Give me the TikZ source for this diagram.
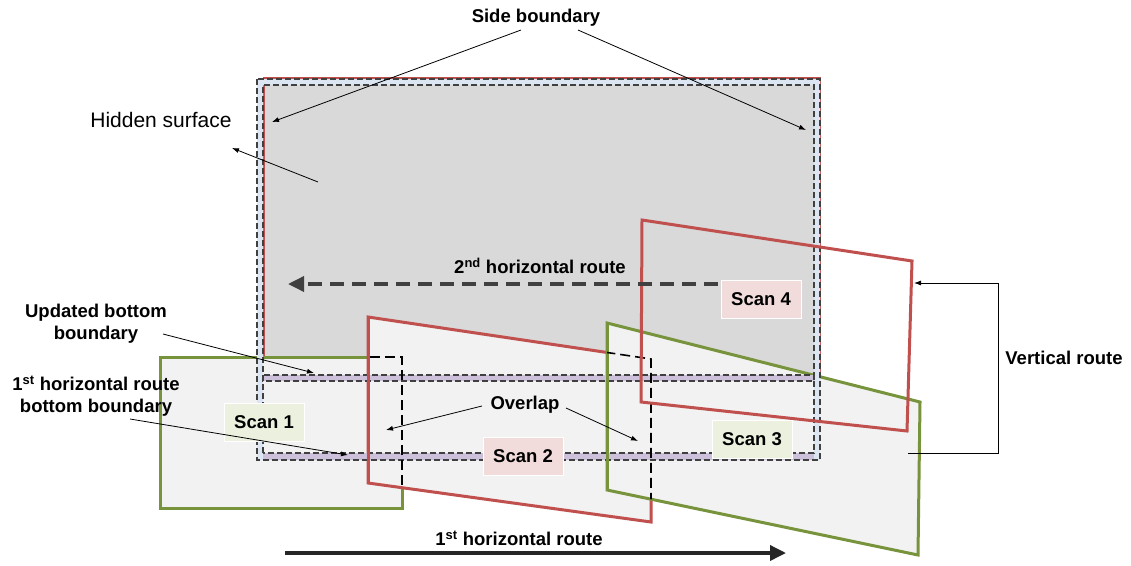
\documentclass[tikz,border=0pt]{standalone}
\usepackage{fontspec}
\setmainfont{Liberation Sans}
\usetikzlibrary{arrows.meta,positioning,calc}
\definecolor{scangreen}{HTML}{77933C}
\definecolor{scanred}{HTML}{C0504D}
\definecolor{surfgray}{HTML}{D9D9D9}
\definecolor{scanfill}{HTML}{F2F2F2}
\definecolor{bandblue}{HTML}{DCE6F2}
\definecolor{bandpurple}{HTML}{CCC0DA}
\definecolor{bandline}{HTML}{404040}
\definecolor{pinkbox}{HTML}{F2DCDB}
\definecolor{greenbox}{HTML}{EBF1DE}

\begin{document}
\begin{tikzpicture}[x=1pt, y=-1pt, line join=miter,
  lbl/.style={font=\fontsize{18.5}{22}\selectfont\bfseries, align=center, inner sep=0pt},
  scanlbl/.style={lbl, draw=white, line width=0.8pt, minimum width=80, minimum height=38},
  scangr/.style={draw=scangreen, line width=3pt},
  scanrd/.style={draw=scanred, line width=3pt},
  band/.style={draw=bandline, line width=1.1pt, dash pattern=on 6pt off 3pt},
  hidden/.style={draw=black, line width=1.6pt, dash pattern=on 10pt off 5pt},
  note/.style={-{Latex[length=7pt,width=5pt]}, line width=0.8pt},
  route/.style={line width=3.5pt, -{Triangle[length=16pt,width=15pt]}}]
\useasboundingbox (0,0) rectangle (1131,565);

% scan footprints
\coordinate (s1a) at (160,357); \coordinate (s1b) at (402,357);
\coordinate (s1c) at (402,508); \coordinate (s1d) at (160,508);
\coordinate (s2a) at (368,317); \coordinate (s2b) at (651,359);
\coordinate (s2c) at (651,522); \coordinate (s2d) at (368,483);
\coordinate (s3a) at (607,323); \coordinate (s3b) at (920,402);
\coordinate (s3c) at (918,555); \coordinate (s3d) at (607,490);
\coordinate (s4a) at (642,220); \coordinate (s4b) at (912,261);
\coordinate (s4c) at (907,431); \coordinate (s4d) at (641,402);

% hidden surface still to scan
\fill[surfgray] (257,79) rectangle (820,378);
\draw[scanred, line width=1.5pt] (264,78) rectangle (820,378);

% scans along the 1st route
\filldraw[fill=scanfill, scangr] (s1a)--(s1b)--(s1c)--(s1d)--cycle;
\filldraw[fill=scanfill, scanrd] (s2a)--(s2b)--(s2c)--(s2d)--cycle;
\filldraw[fill=scanfill, scangr] (s3a)--(s3b)--(s3c)--(s3d)--cycle;

% boundaries
\fill[bandblue, even odd rule] (257,79) rectangle (820,460) (263,85) rectangle (814,453);
\fill[bandpurple] (263,453) rectangle (814,460);
\fill[bandpurple] (263,375) rectangle (814,381);
\draw[band] (257,79) rectangle (820,460);
\draw[band] (263,453)--(263,85)--(814,85)--(814,453)--cycle;
\draw[band] (263,375) rectangle (814,381);
\draw[scanrd] (s2a)--(s2d);
\draw[scangr] (s3a)--(s3d);

% overlapped edges
\begin{scope}
\clip (s2a)--(s2b)--(s2c)--(s2d)--cycle;
\draw[hidden] (s1a)--(s1b)--(s1c)--(s1d)--cycle;
\end{scope}
\begin{scope}
\clip (s3a)--(s3b)--(s3c)--(s3d)--cycle;
\draw[hidden] (s2a)--(s2b)--(s2c)--(s2d)--cycle;
\end{scope}

% scan on the 2nd route
\draw[scanrd] (s4a)--(s4b)--(s4c)--(s4d)--cycle;

% labels
\node[lbl] (side) at (536,18) {Side boundary};
\node[font=\fontsize{21}{25}\selectfont, inner sep=0pt] (hidden) at (161,120) {Hidden surface};
\node[lbl] (route2) at (540,266) {2\textsuperscript{nd} horizontal route};
\node[lbl] (route1) at (519,538) {1\textsuperscript{st} horizontal route};
\node[lbl] (updated) at (96,324) {Updated bottom\\boundary};
\node[lbl] (bottom) at (96,396) {1\textsuperscript{st} horizontal route\\bottom boundary};
\node[lbl] (overlap) at (525,405) {Overlap};
\node[lbl] (vert) at (1064,358) {Vertical route};
\node[scanlbl, fill=greenbox] (scan1) at (264,422) {Scan 1};
\node[scanlbl, fill=pinkbox] (scan2) at (523,456) {Scan 2};
\node[scanlbl, fill=greenbox] (scan3) at (752,439) {Scan 3};
\node[scanlbl, fill=pinkbox] (scan4) at (761,299) {Scan 4};

% arrow ends
\coordinate (sideL) at (521,30);  \coordinate (sideLt) at (272,122);
\coordinate (sideR) at (578,30);  \coordinate (sideRt) at (806,130);
\coordinate (hidS) at (318,182);  \coordinate (hidT) at (232,148);
\coordinate (updS) at (163,334);  \coordinate (updT) at (314,373);
\coordinate (botS) at (130,419);  \coordinate (botT) at (348,455);
\coordinate (ovlS) at (482,406);  \coordinate (ovlT) at (386,430);
\coordinate (ovrS) at (566,408);  \coordinate (ovrT) at (638,441);
\coordinate (r2S) at (718,284);   \coordinate (r2T) at (288,284);
\coordinate (r1S) at (285,553);   \coordinate (r1T) at (786,553);
\coordinate (vS) at (908,453);    \coordinate (vT) at (914,283);

\draw[note] (sideL) -- (sideLt);
\draw[note] (sideR) -- (sideRt);
\draw[note] (hidS) -- (hidT);
\draw[note] (updS) -- (updT);
\draw[note] (botS) -- (botT);
\draw[note] (ovlS) -- (ovlT);
\draw[note] (ovrS) -- (ovrT);
\draw[note] (vS) -- (998,453) -- (998,283) -- (vT);
\draw[route, bandline, dash pattern=on 14pt off 8pt] (r2S) -- (r2T);
\draw[route, black!85] (r1S) -- (r1T);
\end{tikzpicture}
\end{document}
